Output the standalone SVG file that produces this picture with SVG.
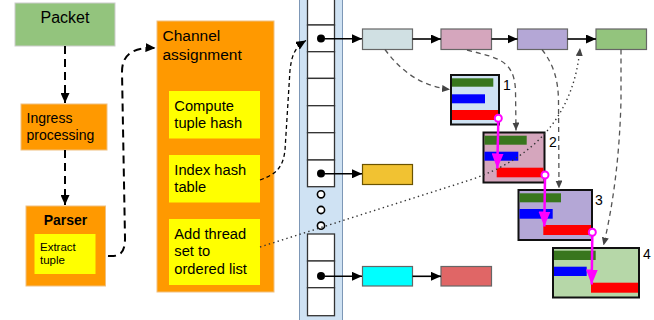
<svg xmlns="http://www.w3.org/2000/svg" width="654" height="320" viewBox="0 0 654 320">
<style>
text{font-family:"Liberation Sans",Arial,sans-serif;fill:#000}
.big{font-size:15.5px}
.mid{font-size:14.7px}
.sm{font-size:11.5px}
.orange{fill:#ff9900;stroke:#f0c080;stroke-width:1}
.yel{fill:#ffff00}
.cell{fill:#fff;stroke:#333;stroke-width:1.3}
.lnode{stroke:#666;stroke-width:1.2}
.det{stroke:#111;stroke-width:2}
.solid{fill:none;stroke:#000;stroke-width:1.6;marker-end:url(#ab)}
.dashB{fill:none;stroke:#000;stroke-width:2;stroke-dasharray:8 5;marker-end:url(#ab)}
.dashS{fill:none;stroke:#000;stroke-width:1.3;stroke-dasharray:4 3;marker-end:url(#ab)}
.dashG{fill:none;stroke:#555;stroke-width:1.3;stroke-dasharray:5 4;marker-end:url(#ag)}
.dot{fill:none;stroke:#333;stroke-width:1.4;stroke-dasharray:1.4 3.2;marker-end:url(#ag)}
.dotn{fill:none;stroke:#333;stroke-width:1.4;stroke-dasharray:1.4 3.2}
.mag{fill:none;stroke:#ff00ff;stroke-width:2.5;marker-end:url(#am)}
.ring{fill:#fff;stroke:#ff00ff;stroke-width:2}
.g{fill:#38761d}.b{fill:#0000ff}.r{fill:#ff0000}
</style>
<defs>
<marker id="ab" markerUnits="userSpaceOnUse" markerWidth="10" markerHeight="9" refX="10" refY="4.5" orient="auto"><path d="M0,0 L10,4.5 L0,9 z" fill="#000"/></marker>
<marker id="ag" markerUnits="userSpaceOnUse" markerWidth="8" markerHeight="7" refX="8" refY="3.5" orient="auto"><path d="M0,0 L8,3.5 L0,7 z" fill="#444"/></marker>
<marker id="am" markerUnits="userSpaceOnUse" markerWidth="15" markerHeight="12" refX="15" refY="6" orient="auto"><path d="M0,0 L15,6 L0,12 z" fill="#ff00ff"/></marker>
</defs>

<g id="packet"><rect x="15" y="3" width="100" height="43" fill="#93c47d" stroke="#ccc"/><text x="65" y="23" class="big" font-size="16" text-anchor="middle" style="font-size:16px">Packet</text></g>
<g id="ingress"><rect x="21" y="104" width="86" height="46" class="orange"/><text x="26.5" y="122.5" style="font-size:14px">Ingress</text><text x="26.5" y="139.5" style="font-size:14px">processing</text></g>
<g id="parser"><rect x="26" y="206" width="79.5" height="80" class="orange"/><text x="65.5" y="224.5" text-anchor="middle" font-weight="bold" style="font-size:14px">Parser</text>
<rect x="34.5" y="234" width="61" height="40" class="yel"/><text x="40" y="250.5" class="sm">Extract</text><text x="40" y="264" class="sm">tuple</text></g>

<g id="channel"><rect x="157" y="21" width="117" height="271" class="orange"/><text x="162.5" y="41" class="big">Channel</text><text x="162.5" y="59.5" class="big">assignment</text></g>
<g id="compute"><rect x="169" y="91" width="91" height="47.5" class="yel"/><text x="174.3" y="110.7" class="mid">Compute</text><text x="174.3" y="128.3" class="mid">tuple hash</text></g>
<g id="index"><rect x="169" y="155" width="91" height="47.5" class="yel"/><text x="174.3" y="174.7" class="mid">Index hash</text><text x="174.3" y="192.3" class="mid">table</text></g>
<g id="addthread"><rect x="169" y="219" width="91" height="66" class="yel"/><text x="174.3" y="238.7" class="mid">Add thread</text><text x="174.3" y="256.3" class="mid">set to</text><text x="174.3" y="274" class="mid">ordered list</text></g>

<g id="hashtable">
<rect x="299.5" y="-2" width="43" height="324" fill="#cfe2f3" stroke="#7d97b6" stroke-width="1"/>
<rect x="307.5" y="-3" width="27" height="28" class="cell"/>
<rect x="307.5" y="25" width="27" height="26.7" class="cell"/>
<rect x="307.5" y="51.7" width="27" height="26.7" class="cell"/>
<rect x="307.5" y="78.4" width="27" height="27.3" class="cell"/>
<rect x="307.5" y="105.7" width="27" height="27" class="cell"/>
<rect x="307.5" y="132.7" width="27" height="27.3" class="cell"/>
<rect x="307.5" y="160" width="27" height="26.7" class="cell"/>
<circle cx="321" cy="194.3" r="3.6" fill="#fff" stroke="#000" stroke-width="1.6"/>
<circle cx="321" cy="210" r="3.6" fill="#fff" stroke="#000" stroke-width="1.6"/>
<circle cx="321" cy="225.7" r="3.6" fill="#fff" stroke="#000" stroke-width="1.6"/>
<rect x="307.5" y="234" width="27" height="27" class="cell"/>
<rect x="307.5" y="261" width="27" height="26.7" class="cell"/>
<rect x="307.5" y="287.7" width="27" height="28" class="cell"/>
<circle cx="321" cy="38.5" r="4" fill="#000"/>
<circle cx="321" cy="173.5" r="4" fill="#000"/>
<circle cx="321" cy="276" r="4" fill="#000"/>
</g>

<g id="list1a"><rect x="362.5" y="29" width="50" height="20.5" fill="#d0e0e3" class="lnode"/></g>
<g id="list1b"><rect x="441" y="29" width="50.5" height="20.5" fill="#d5a6bd" class="lnode"/></g>
<g id="list1c"><rect x="517.5" y="29" width="50" height="20.5" fill="#b4a7d6" class="lnode"/></g>
<g id="list1d"><rect x="596" y="29" width="50.5" height="20.5" fill="#93c47d" class="lnode"/></g>
<g id="list2a"><rect x="362.5" y="164.5" width="50" height="20" fill="#f1c232" stroke="#6b5300" stroke-width="1.2"/></g>
<g id="list3a"><rect x="362.5" y="266.5" width="50" height="19.5" fill="#00ffff" class="lnode"/></g>
<g id="list3b"><rect x="441" y="266.5" width="50.5" height="19.5" fill="#e06666" class="lnode"/></g>

<g id="det1"><rect x="451" y="75" width="48" height="49.5" fill="#cfe2f3" class="det"/>
<rect x="452" y="78.3" width="41.3" height="8.4" class="g"/><rect x="452" y="94.3" width="33" height="9" class="b"/><rect x="452" y="110" width="46" height="10" class="r"/>
<text x="503" y="90" style="font-size:14px">1</text></g>
<g id="det2"><rect x="483.5" y="132.5" width="61" height="50" fill="#d5a6bd" class="det"/>
<rect x="484.5" y="135.7" width="42.2" height="9" class="g"/><rect x="484.5" y="151.7" width="33.8" height="9" class="b"/><rect x="496.7" y="167.7" width="46.8" height="9.6" class="r"/>
<text x="549" y="147" style="font-size:14px">2</text></g>
<g id="det3"><rect x="518.5" y="190" width="73.5" height="50" fill="#b4a7d6" class="det"/>
<rect x="519.5" y="193.3" width="41.5" height="9" class="g"/><rect x="519.5" y="209" width="33.2" height="9.7" class="b"/><rect x="543.3" y="225" width="47.7" height="10" class="r"/>
<text x="595" y="205" style="font-size:14px">3</text></g>
<g id="det4"><rect x="553" y="248" width="86" height="49.5" fill="#b6d7a8" class="det"/>
<rect x="554" y="250.7" width="41.7" height="9.3" class="g"/><rect x="554" y="266.7" width="32.7" height="9.3" class="b"/><rect x="591" y="282.7" width="47" height="10" class="r"/>
<text x="643" y="258.5" style="font-size:14px">4</text></g>

<g id="connectors">
<path d="M65,46 L65,103" class="dashB"/>
<path d="M65,150 L65,205" class="dashB"/>
<path d="M108,256 C121,257 125,252 125,238 L122,72 C122,55 132,47 155.5,48" class="dashB"/>
<path d="M260,180 C276,174 283,168 285,150 L290,70 C292,52 297,46 306,40.5" class="dashS"/>
<path d="M260,247 L470,180 C535,158 574,115 580,48" class="dot"/>
<path d="M325,38.8 L362,38.8" class="solid"/>
<path d="M412.5,39 L441,39" class="solid"/>
<path d="M491.5,39 L517.5,39" class="solid"/>
<path d="M567.5,39 L596,39" class="solid"/>
<path d="M325,173.8 L362,173.8" class="solid"/>
<path d="M325,276.3 L362,276.3" class="solid"/>
<path d="M412.5,276.3 L441,276.3" class="solid"/>
<path d="M385,49.5 C400,70 420,86 450,89.5" class="dashG"/>
<path d="M467,50 C498,58 514,60 515.5,90 L516,130.5" class="dashG"/>
<path d="M542,49.5 C553,64 558,78 558.5,100 L559,188.5" class="dashG"/>
<path d="M621,49.5 L621,100 Q619,180 603.5,245.5" class="dashG"/>
<path d="M498.3,121.8 L497.3,168.5" class="mag"/>
<path d="M545,178.5 L544.3,226.5" class="mag"/>
<path d="M592.3,235.8 L591.7,284.5" class="mag"/>
<circle cx="498.3" cy="118.3" r="3.5" class="ring"/>
<circle cx="545" cy="175" r="3.5" class="ring"/>
<circle cx="592.3" cy="232.3" r="3.5" class="ring"/>
</g>
</svg>
